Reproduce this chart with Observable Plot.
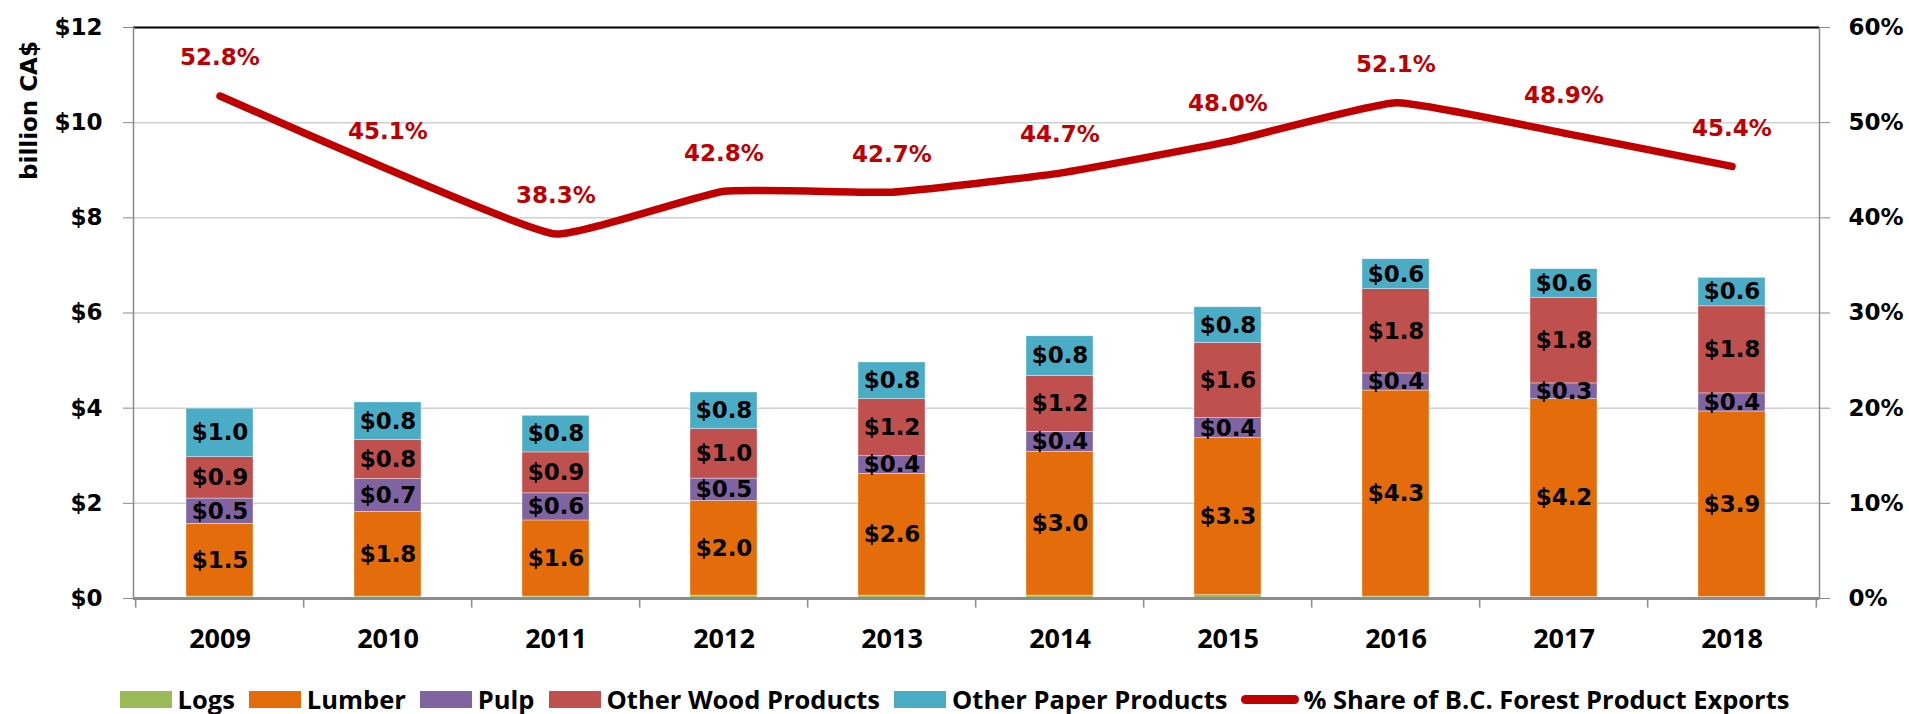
<!DOCTYPE html>
<html>
<head>
<meta charset="utf-8">
<script src="https://cdn.jsdelivr.net/npm/d3@7"></script>
<script src="https://cdn.jsdelivr.net/npm/@observablehq/plot@0.6"></script>
<style>
  html, body { margin: 0; padding: 0; background: #fff; }
  #wrap { position: relative; width: 1909px; height: 714px; }
  #legend { position: absolute; left: 0; top: 682px; width: 1909px; height: 34px;
    display: flex; justify-content: center; align-items: center;
    font-family: "Open Sans", sans-serif; font-weight: bold; font-size: 25.5px; color: #000; }
  .item { display: flex; align-items: center; margin: 0 7px; }
  .sw { width: 52px; height: 17px; margin-right: 6px; }
  .ln { width: 58px; height: 9px; border-radius: 5px; margin-right: 4px; background: #C00000; }
</style>
</head>
<body>
<div id="wrap"><div id="chart"></div><div id="legend"></div></div>
<script>
const years = ["2009","2010","2011","2012","2013","2014","2015","2016","2017","2018"];
const logs       = [0.04, 0.04, 0.04, 0.06, 0.06, 0.06, 0.07, 0.04, 0.03, 0.03];
const lumber     = [1.53, 1.78, 1.60, 1.99, 2.56, 3.02, 3.30, 4.33, 4.16, 3.90];
const pulp       = [0.53, 0.69, 0.57, 0.47, 0.37, 0.42, 0.42, 0.36, 0.33, 0.38];
const otherWood  = [0.87, 0.82, 0.86, 1.04, 1.20, 1.18, 1.58, 1.77, 1.80, 1.83];
const otherPaper = [1.02, 0.79, 0.77, 0.77, 0.77, 0.83, 0.75, 0.63, 0.60, 0.60];
const share      = [52.8, 45.1, 38.3, 42.8, 42.7, 44.7, 48.0, 52.1, 48.9, 45.4];
const categories = ["Logs", "Lumber", "Pulp", "Other Wood Products", "Other Paper Products"];
const colors     = ["#9BBB59", "#E46C0A", "#8064A2", "#C0504D", "#4BACC6"];
const lineName   = "% Share of B.C. Forest Product Exports";
const yTicks     = [0, 2, 4, 6, 8, 10, 12];
const yTitle     = "billion CA$";

const series = [logs, lumber, pulp, otherWood, otherPaper];
const rows = [];
years.forEach((yr, i) => categories.forEach((c, k) => rows.push({year: yr, category: c, value: series[k][i]})));
const shareRows = years.map((yr, i) => ({year: yr, share: share[i], v: share[i] / 5}));

const W = 1909, H = 665, mL = 133, mR = 90;
const step = (W - mL - mR) / years.length;

const chart = Plot.plot({
  width: W, height: H,
  marginLeft: mL, marginRight: mR, marginTop: 27, marginBottom: H - 598,
  style: {fontFamily: "DejaVu Sans", fontWeight: "bold", fontSize: "23px", color: "#000", background: "white", overflow: "visible"},
  x: {type: "band", domain: years, paddingInner: 0.6, paddingOuter: 0.3},
  y: {domain: [0, 12]},
  color: {domain: categories, range: colors},
  marks: [
    Plot.ruleY([2, 4, 6, 8, 10], {stroke: "#d0d0d0", strokeWidth: 1.5}),
    Plot.ruleY([12], {stroke: "#000", strokeWidth: 2}),
    Plot.frame({anchor: "left", stroke: "#8a8a8a", strokeWidth: 1.5}),
    Plot.frame({anchor: "right", stroke: "#8a8a8a", strokeWidth: 1.5}),
    Plot.barY(rows, Plot.stackY({x: "year", y: "value", fill: "category", z: "category", order: categories, stroke: "#fff", strokeWidth: 0.6, strokeOpacity: 0.6})),
    Plot.text(rows, Plot.stackY({x: "year", y: "value", z: "category", order: categories,
      text: d => d.category === "Logs" ? "" : "$" + d.value.toFixed(1), fill: "#000", fontSize: 23})),
    Plot.ruleY([0], {stroke: "#8c8c8c", strokeWidth: 3}),
    Plot.ruleX(years, {x: d => d, y1: 0, y2: -0.2, dx: -step / 2, stroke: "#8a8a8a", strokeWidth: 1.5}),
    Plot.ruleX([years[years.length - 1]], {x: d => d, y1: 0, y2: -0.2, dx: step / 2, stroke: "#8a8a8a", strokeWidth: 1.5}),
    Plot.line(shareRows, {x: "year", y: "v", stroke: "#C00000", strokeWidth: 7.5, curve: "cardinal", tension: 0.6, strokeLinecap: "round", strokeLinejoin: "round"}),
    Plot.text(shareRows, {x: "year", y: "v", text: d => d.share.toFixed(1) + "%", dy: -38, fill: "#C00000", fontSize: 23}),
    Plot.axisY({anchor: "left", ticks: yTicks, tickFormat: d => "$" + d, tickSize: 10, tickPadding: 21, stroke: "#8a8a8a", fill: "#000", label: null, fontSize: 23}),
    Plot.axisY({anchor: "right", ticks: yTicks, tickFormat: d => (d * 5) + "%", tickSize: 10, tickPadding: 19, stroke: "#8a8a8a", fill: "#000", label: null, fontSize: 23}),
    Plot.axisX({tickSize: 0, tickPadding: 30, label: null, fontFamily: "Open Sans", fontSize: 27, fill: "#000"}),
    Plot.text([yTitle], {frameAnchor: "top-left", textAnchor: "middle", lineAnchor: "middle", dx: -104, dy: 83, rotate: -90, fontSize: 23, fill: "#000"})
  ]
});
document.getElementById("chart").appendChild(chart);

const legend = document.getElementById("legend");
categories.forEach((c, k) => {
  const it = document.createElement("div"); it.className = "item";
  const sw = document.createElement("div"); sw.className = "sw"; sw.style.background = colors[k];
  const tx = document.createElement("span"); tx.textContent = c;
  it.appendChild(sw); it.appendChild(tx); legend.appendChild(it);
});
{
  const it = document.createElement("div"); it.className = "item";
  const sw = document.createElement("div"); sw.className = "ln";
  const tx = document.createElement("span"); tx.textContent = lineName;
  it.appendChild(sw); it.appendChild(tx); legend.appendChild(it);
}
</script>
</body>
</html>
